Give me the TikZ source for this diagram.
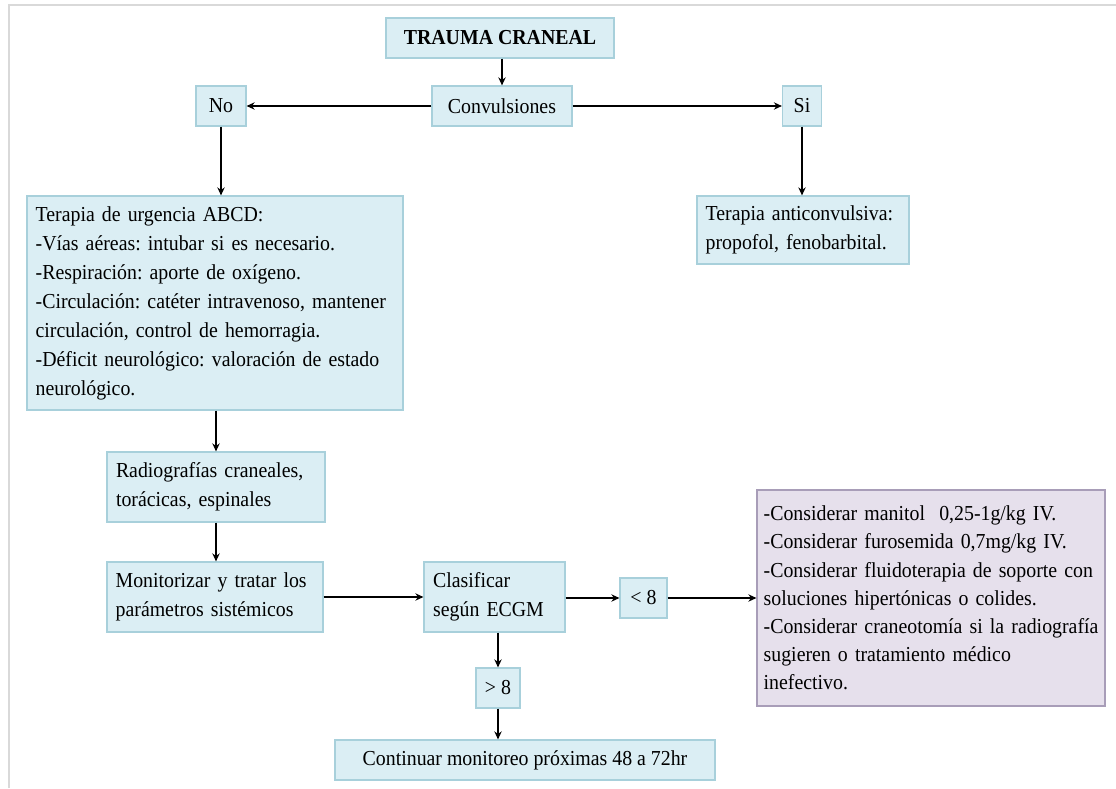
\documentclass[tikz,border=0pt]{standalone}
\usepackage{fontspec}
\setmainfont[FakeStretch=0.93]{Liberation Serif}
\usetikzlibrary{arrows.meta}
\definecolor{boxfill}{HTML}{DBEEF4}
\definecolor{boxline}{HTML}{A8D0DB}
\definecolor{lilafill}{HTML}{E6E0EC}
\definecolor{lilaline}{HTML}{A89DB8}
\definecolor{framegray}{HTML}{D9D9D9}
\begin{document}
\frenchspacing
\begin{tikzpicture}[x=0.75pt,y=-0.75pt,
  box/.style={draw=boxline, fill=boxfill, line width=0.9pt, font=\fontsize{16}{21.75}\selectfont, inner xsep=6.5pt, inner ysep=0pt},
  lila/.style={box, draw=lilaline, fill=lilafill, font=\fontsize{16}{21.1}\selectfont},
  sz/.style 2 args={minimum width=#1*0.75pt, minimum height=#2*0.75pt},
  arr/.style={line width=1.6pt, -{Stealth[length=6pt,width=5.5pt]}}
]
\useasboundingbox (0,0) rectangle (1116,788);
\draw[framegray, line width=1.5pt] (9,788) -- (9,5) -- (1116,5);

\node[box, sz={228}{40}, font=\fontsize{16}{21.75}\selectfont\bfseries] (tc) at (500,38) {TRAUMA CRANEAL};
\node[box, sz={140}{40}] (conv) at (502,106) {Convulsiones};
\node[box, sz={50}{40}] (no) at (221,106) {No};
\node[box, sz={39}{40}, inner xsep=2pt] (si) at (802,106) {Si};
\node[box, sz={376}{214}, text width=269pt, align=left] (abcd) at (215,303)
  {\mbox{Terapia de urgencia ABCD:}\\
   \mbox{-Vías aéreas: intubar si es necesario.}\\
   \mbox{-Respiración: aporte de oxígeno.}\\
   \mbox{-Circulación: catéter intravenoso, mantener}\\
   \mbox{circulación, control de hemorragia.}\\
   \mbox{-Déficit neurológico: valoración de estado}\\
   \mbox{neurológico.}};
\node[box, sz={212}{68}, text width=146pt, align=left] (anti) at (803,230)
  {Terapia anticonvulsiva:\\propofol, fenobarbital.};
\node[box, sz={218}{70}, text width=150pt, align=left] (radio) at (216,487)
  {Radiografías craneales,\\torácicas, espinales};
\node[box, sz={216}{70}, text width=149pt, align=left] (moni) at (215,597)
  {Monitorizar y tratar los\\parámetros sistémicos};
\node[box, sz={141}{70}, text width=92pt, align=left] (clas) at (494.5,597)
  {Clasificar\\según ECGM};
\node[box, sz={47}{40}, inner xsep=2pt] (lt) at (643.5,598) {< 8};
\node[box, sz={44}{40}, inner xsep=2pt] (gt) at (498,688) {> 8};
\node[box, sz={380}{40}] (cont) at (525,760) {Continuar monitoreo próximas 48 a 72hr};
\node[lila, sz={348}{216}, inner xsep=5pt, text width=251pt, align=left] (lil) at (931,598)
  {\mbox{-Considerar manitol\ \ 0,25-1g/kg IV.}\\
   \mbox{-Considerar furosemida 0,7mg/kg IV.}\\
   \mbox{-Considerar fluidoterapia de soporte con}\\
   \mbox{soluciones hipertónicas o colides.}\\
   \mbox{-Considerar craneotomía si la radiografía}\\
   \mbox{sugieren o tratamiento médico}\\
   \mbox{inefectivo.}};

\draw[arr] (conv.north |- tc.south) -- (conv.north);
\draw[arr] (conv.west) -- (no.east);
\draw[arr] (conv.east) -- (si.west);
\draw[arr] (no.south) -- (no.south |- abcd.north);
\draw[arr] (si.south) -- (si.south |- anti.north);
\draw[arr] (radio.north |- abcd.south) -- (radio.north);
\draw[arr] (radio.south) -- (radio.south |- moni.north);
\draw[arr] (moni.east) -- (moni.east -| clas.west);
\draw[arr] (clas.east |- lt.west) -- (lt.west);
\draw[arr] (lt.east) -- (lt.east -| lil.west);
\draw[arr] (gt.north |- clas.south) -- (gt.north);
\draw[arr] (gt.south) -- (gt.south |- cont.north);
\end{tikzpicture}
\end{document}
